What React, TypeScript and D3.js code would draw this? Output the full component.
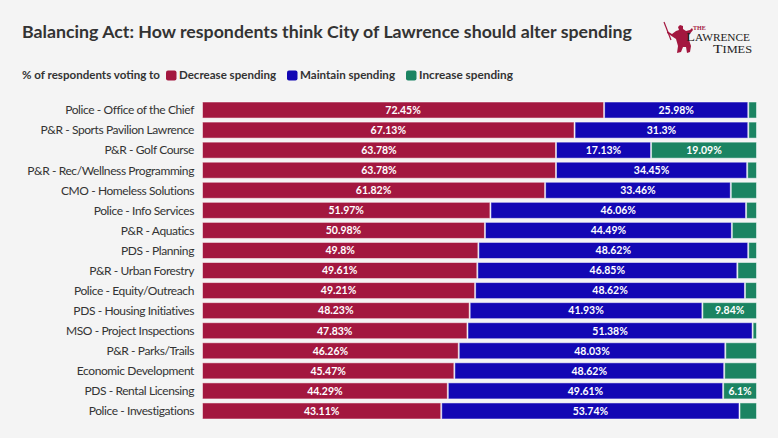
import React from "react";
import * as d3 from "d3";

const categories = [
  "Police - Office of the Chief",
  "P&R - Sports Pavilion Lawrence",
  "P&R - Golf Course",
  "P&R - Rec/Wellness Programming",
  "CMO - Homeless Solutions",
  "Police - Info Services",
  "P&R - Aquatics",
  "PDS - Planning",
  "P&R - Urban Forestry",
  "Police - Equity/Outreach",
  "PDS - Housing Initiatives",
  "MSO - Project Inspections",
  "P&R - Parks/Trails",
  "Economic Development",
  "PDS - Rental Licensing",
  "Police - Investigations",
];
const decrease = [72.45, 67.13, 63.78, 63.78, 61.82, 51.97, 50.98, 49.8, 49.61, 49.21, 48.23, 47.83, 46.26, 45.47, 44.29, 43.11];
const maintain = [25.98, 31.3, 17.13, 34.45, 33.46, 46.06, 44.49, 48.62, 46.85, 48.62, 41.93, 51.38, 48.03, 48.62, 49.61, 53.74];
const increase = [1.57, 1.57, 19.09, 1.77, 4.72, 1.97, 4.53, 1.58, 3.54, 2.17, 9.84, 0.79, 5.71, 5.91, 6.1, 3.15];

const seriesNames = ["Decrease spending", "Maintain spending", "Increase spending"];
const seriesColors = ["#a3173f", "#1307b4", "#1b8462"];

const W = 778;
const H = 438;
const FONT = "Lato, 'Open Sans', sans-serif";
const SERIF = "'Liberation Serif', 'DejaVu Serif', serif";

export default function App() {
  const rows = categories.map((c, i) => ({ cat: c, vals: [decrease[i], maintain[i], increase[i]] }));
  const x = d3.scaleLinear().domain([0, 100]).range([202, 757]);
  const y = d3.scaleBand().domain(categories).range([100, 421]).paddingInner(0.2).paddingOuter(0.1);

  const legendX = [166, 287, 406];
  const legendEnd = [276, 395, 513];

  return (
    <svg width={W} height={H} style={{ position: "absolute", left: 0, top: 0, background: "#f4f4f4" }} fontFamily={FONT}>
      <rect x={0} y={0} width={W} height={H} fill="#f4f4f4" />
      <text x={22} y={38} fontSize={17.7} fontWeight={700} fill="#333" textLength={610} lengthAdjust="spacingAndGlyphs">
        Balancing Act: How respondents think City of Lawrence should alter spending
      </text>
      {/* logo */}
      <g>
        <line x1={664} y1={22} x2={671} y2={40} stroke="#a3173f" strokeWidth={1.2} />
        <path
          d="M667,31 L672,34 L676,31 L679,30 L678,27 L680,25 L683,26 L683,29 L686,31 L690,30 L692,28 L693,30 L689,35 L689,40 L691,46 L690,52 L687,53 L686,47 L683,47 L681,52 L677,53 L678,46 L676,39 L673,37 L667,33 Z"
          fill="#a3173f"
        />
        <text x={693} y={29.5} fontSize={6} fontFamily={SERIF} fill="#a3173f" fontWeight={700}>THE</text>
        <text x={686} y={40.5} fontSize={13} fontFamily={SERIF} fill="#222" textLength={64} lengthAdjust="spacingAndGlyphs">L<tspan fontSize={10}>AWRENCE</tspan></text>
        <text x={713} y={53} fontSize={12} fontFamily={SERIF} fill="#222" textLength={39} lengthAdjust="spacingAndGlyphs">T<tspan fontSize={9.5}>IMES</tspan></text>
      </g>
      {/* legend */}
      <text x={22} y={79} fontSize={12} fontWeight={700} fill="#333" textLength={138} lengthAdjust="spacingAndGlyphs">% of respondents voting to</text>
      {legendX.map((lx, i) => (
        <g key={i}>
          <rect x={lx} y={70.5} width={10.5} height={10} rx={2} fill={seriesColors[i]} />
          <text x={lx + 13} y={79} fontSize={12} fontWeight={700} fill="#333" textLength={legendEnd[i] - lx - 13} lengthAdjust="spacingAndGlyphs">{seriesNames[i]}</text>
        </g>
      ))}
      {/* rows */}
      {rows.map((r) => {
        let acc = 0;
        const yy = y(r.cat)!;
        return (
          <g key={r.cat}>
            <text x={194} y={yy + y.bandwidth() / 2 + 4.3} fontSize={12} letterSpacing={-0.4} textAnchor="end" fill="#333">{r.cat}</text>
            {r.vals.map((v, j) => {
              const x0 = x(acc);
              acc += v;
              const x1 = x(acc);
              return (
                <g key={j}>
                  <rect x={x0 + 0.5} y={yy} width={Math.max(0, x1 - x0 - 1)} height={y.bandwidth()} fill={seriesColors[j]} stroke="#ffffff" strokeOpacity={0.5} strokeWidth={1} />
                  {v >= 6 && (
                    <text x={(x0 + x1) / 2} y={yy + y.bandwidth() / 2 + 3.8} fontSize={10.5} fontWeight={700} fill="#fff" textAnchor="middle">
                      {`${v}%`}
                    </text>
                  )}
                </g>
              );
            })}
          </g>
        );
      })}
    </svg>
  );
}
